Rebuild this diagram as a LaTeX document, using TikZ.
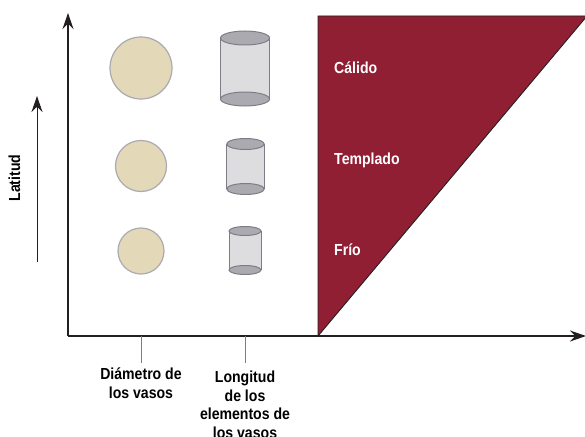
\documentclass[tikz,border=0pt]{standalone}
\usepackage{fontspec}
\setmainfont{Liberation Sans}[FakeStretch=0.88]
\usepackage{xcolor}
\usepackage{tikz}
\usetikzlibrary{
	arrows,arrows.meta,shapes,positioning
}
\definecolor{vino}{RGB}{145,31,52}
\definecolor{beige}{RGB}{227,217,185}
\definecolor{vidrio}{RGB}{221,221,224}
\definecolor{tapa}{RGB}{170,170,176}
\definecolor{borde}{RGB}{125,125,133}
\definecolor{eje}{RGB}{35,31,32}

\begin{document}
\begin{tikzpicture}[x=1pt,y=-1pt,
	txt/.style={font=\fontsize{16}{18.5}\selectfont\bfseries,inner sep=0pt,align=center},
	clima/.style={txt,text=white,anchor=base west},
	poro/.style={circle,draw=tapa,line width=1.2pt,fill=beige,inner sep=0pt},
	eje/.style={line width=1.3pt,draw=eje,-{Stealth[length=16pt,width=11pt]}}]
		\useasboundingbox (0,0) rectangle (585,436);
		% zona climatica
		\coordinate (T1) at (318,336);
		\coordinate (T2) at (318,16);
		\coordinate (T3) at (587,16);
		\fill[vino,draw=eje,line width=0.9pt] (T1) -- (T2) -- (T3) -- cycle;
		\node[clima] (calido) at (334,73) {Cálido};
		\node[clima] (templado) at (334,164) {Templado};
		\node[clima] (frio) at (334,255) {Frío};
		%
		% diametro de los vasos
		\node[poro,minimum size=62pt] (d1) at (141,68) {};
		\node[poro,minimum size=51pt] (d2) at (141,166) {};
		\node[poro,minimum size=46pt] (d3) at (141,251) {};
		%
		% longitud de los elementos
		\foreach \cx/\ty/\by/\rx/\ry in {245/38/99/24.5/7,245.5/144/189/18.7/5.5,245/231/270/16/4.5}{
			\fill[vidrio] (\cx-\rx,\ty) rectangle (\cx+\rx,\by);
			\draw[borde,line width=1pt] (\cx-\rx,\ty) -- (\cx-\rx,\by) (\cx+\rx,\ty) -- (\cx+\rx,\by);
			\draw[borde,fill=tapa,line width=1pt] (\cx,\by) ellipse (\rx pt and \ry pt);
			\draw[borde,fill=tapa,line width=1pt] (\cx,\ty) ellipse (\rx pt and \ry pt);
		}
		%
		% ejes
		\coordinate (O) at (68,336);
		\coordinate (Y) at (68,13);
		\coordinate (X) at (586,336);
		\draw[eje] (O) -- (Y);
		\draw[eje] (O) -- (X);
		\coordinate (L0) at (37,262);
		\coordinate (L1) at (37,96);
		\draw[eje,line width=1pt] (L0) -- (L1);
		\node[txt,rotate=90] (lat) at (14.5,178) {Latitud};
		%
		\coordinate (a0) at (141,336);
		\coordinate (a1) at (141,363);
		\coordinate (b0) at (245,336);
		\coordinate (b1) at (245,363);
		\path[draw=borde,line width=1pt]
		(a0) -- (a1)
		(b0) -- (b1);
		\node[txt,anchor=north] (diam) at (141,368) {Diámetro de\\los vasos};
		\node[txt,anchor=north] (long) at (245,371) {Longitud\\de los\\elementos de\\los vasos};
\end{tikzpicture}
\end{document}
